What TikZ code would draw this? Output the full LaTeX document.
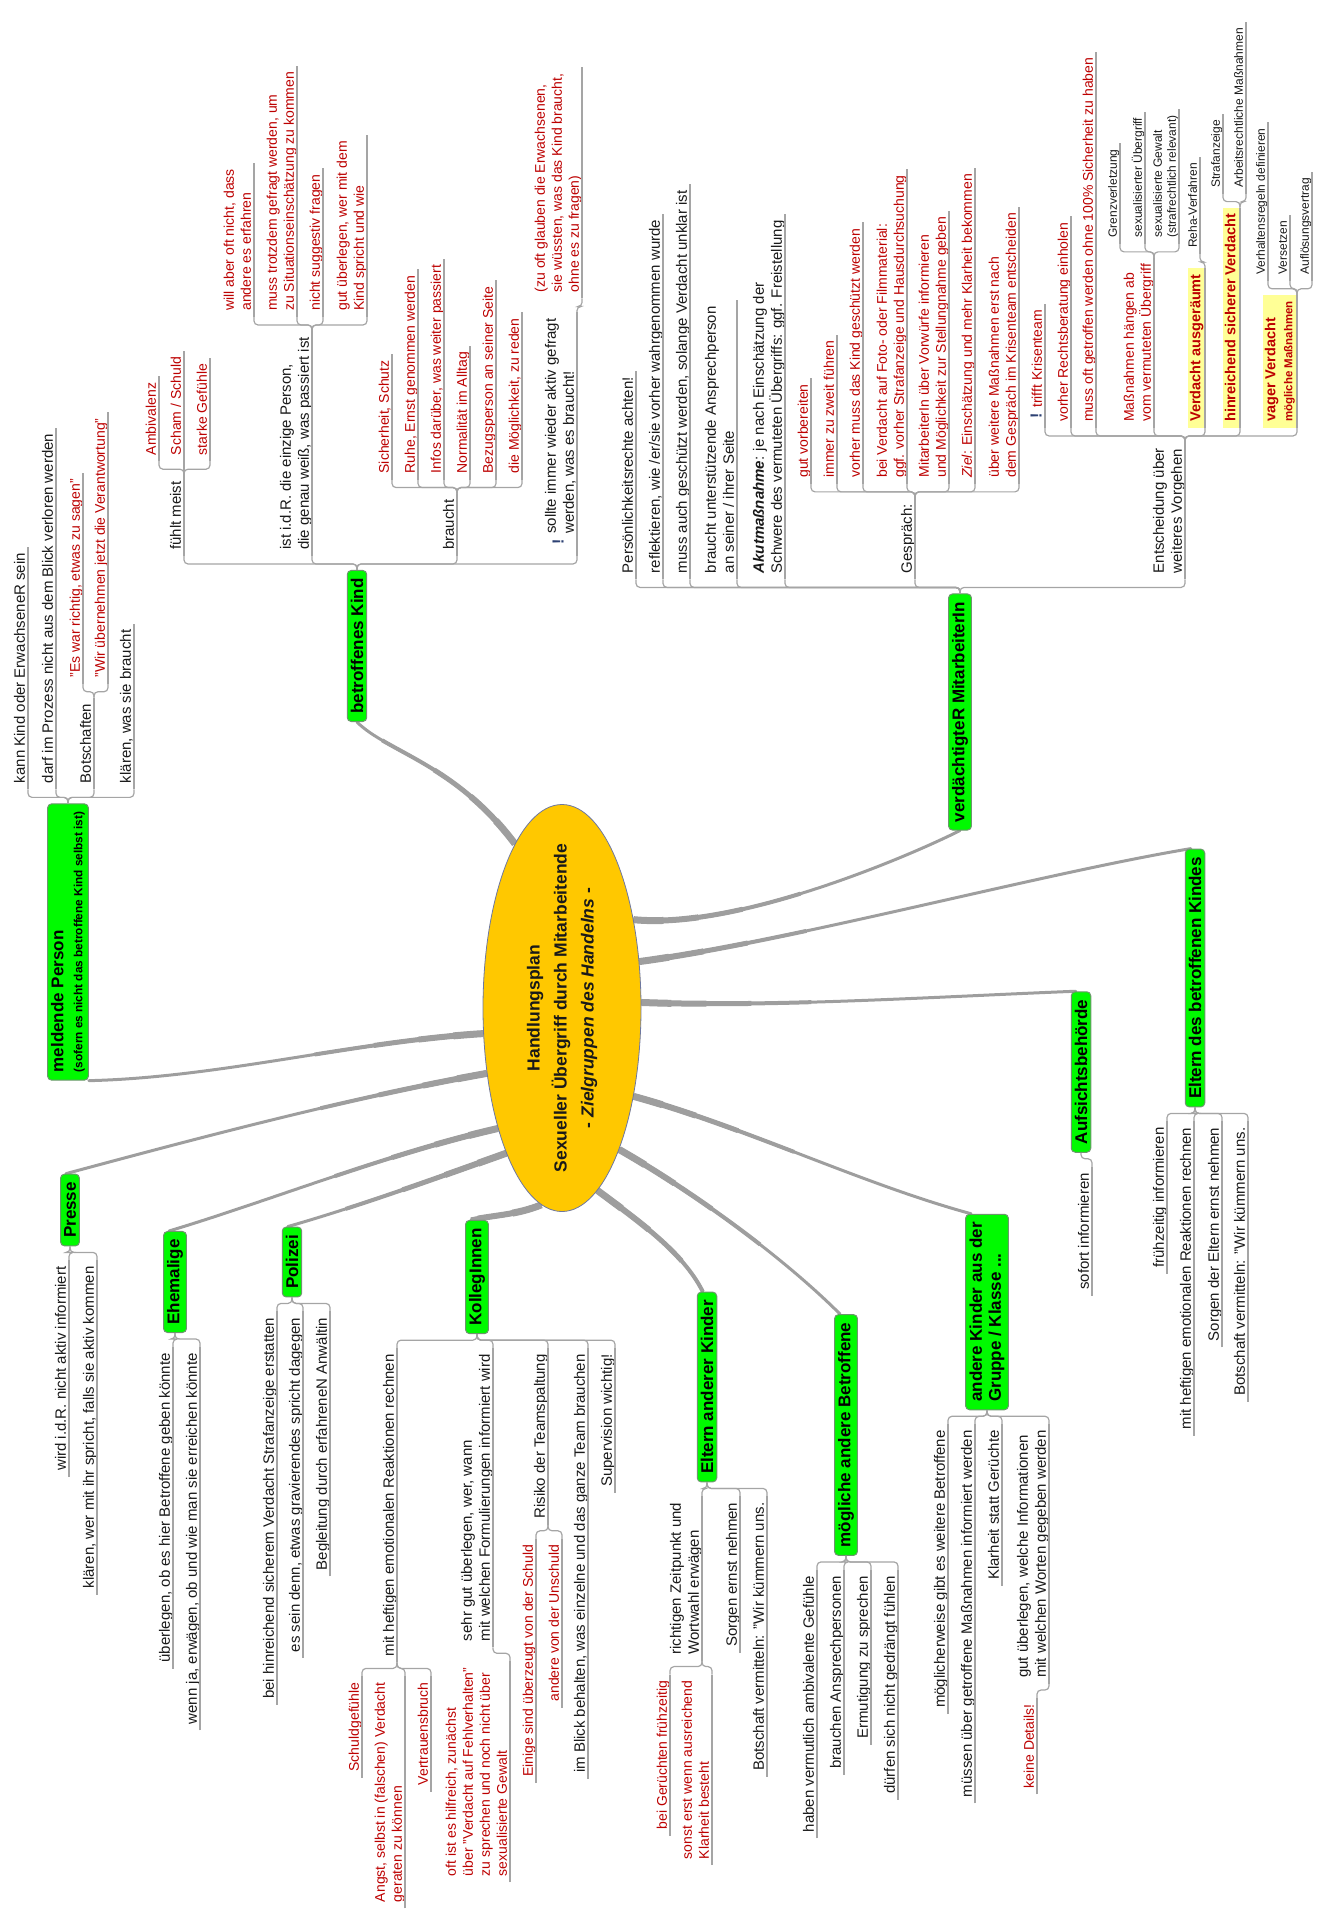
\documentclass[tikz,border=0pt]{standalone}
\usepackage{fontspec}
\setmainfont{Liberation Sans}
\usetikzlibrary{shapes.geometric,backgrounds,calc}
\definecolor{mmgreen}{RGB}{0,250,0}
\definecolor{boxline}{RGB}{110,150,110}
\definecolor{hubgold}{RGB}{255,200,0}
\definecolor{hubline}{RGB}{110,120,160}
\definecolor{lgray}{RGB}{165,165,165}
\definecolor{bgray}{RGB}{158,158,158}
\definecolor{dred}{RGB}{188,0,0}
\definecolor{ink}{RGB}{25,25,25}
\definecolor{hlyellow}{RGB}{255,255,150}
\definecolor{iconblue}{RGB}{45,65,115}
\tikzset{
  lnk/.style={draw=lgray, line width=1.2pt},
  branch/.style={draw=bgray, line width=3pt, line cap=round,
    postaction={draw=bgray, line width=4pt, line cap=butt, dash pattern=on 170pt off 4000pt},
    postaction={draw=bgray, line width=5pt, line cap=butt, dash pattern=on 110pt off 4000pt},
    postaction={draw=bgray, line width=6pt, line cap=butt, dash pattern=on 65pt off 4000pt},
    postaction={draw=bgray, line width=7pt, line cap=butt, dash pattern=on 30pt off 4000pt}},
  rbrace/.style={lnk, rounded corners=4pt, to path={-- ++(0,-6) -| (\tikztotarget)}},
  lbrace/.style={lnk, rounded corners=4pt, to path={-- ++(0,6) -| (\tikztotarget)}},
  topic/.style={rotate=90, draw=boxline, line width=1pt, fill=mmgreen, rounded corners=4pt, text=black, font=\bfseries\fontsize{17}{19}\selectfont, inner xsep=8pt, inner ysep=3.5pt, align=left},
  rt/.style={rotate=90, anchor=south west, inner xsep=6pt, inner ysep=0.5pt, text depth=2.5pt, align=left, text=ink, font=\fontsize{15}{18}\selectfont, append after command={(\tikzlastnode.south west) edge[lnk] (\tikzlastnode.south east)}},
  lt/.style={rt, anchor=south east},
  rd/.style={text=dred, font=\fontsize{14}{17}\selectfont},
  sm/.style={font=\fontsize{12}{14}\selectfont},
  hl/.style={fill=hlyellow, text=dred, font=\bfseries\fontsize{14.5}{17}\selectfont, inner ysep=2pt},
  bang/.style={rotate=90, text=iconblue, font=\bfseries\fontsize{16}{16}\selectfont, inner sep=0pt}
}
\begin{document}
\begin{tikzpicture}[x=1pt,y=-1pt]
\useasboundingbox (0,0) rectangle (1326,1910);
\node[ellipse, rotate=90, draw=hubline, line width=0.8pt, fill=hubgold, minimum width=407pt, minimum height=158pt, inner sep=0pt] (hub) at (562,1008) {};
\node[rotate=90, align=center, text=ink, font=\bfseries\fontsize{17.5}{27}\selectfont] (hubtext) at (hub.center) {Handlungsplan\\Sexueller Übergriff durch Mitarbeitende\\- \textit{Zielgruppen des Handelns} -};

\node[topic] (mp) at (68,942) {meldende Person\\{\fontsize{11.8}{14}\selectfont (sofern es nicht das betroffene Kind selbst ist)}};
\coordinate (mpk) at ([yshift=14pt]mp.east);
\node[rt] (mp1) at (28,0 |- mpk) {kann Kind oder ErwachseneR sein};
\node[rt] (mp2) at (56,0 |- mpk) {darf im Prozess nicht aus dem Blick verloren werden};
\node[rt] (mp3) at (94,0 |- mpk) {Botschaften};
\node[rt] (mp4) at (134,0 |- mpk) {klären, was sie braucht};
\coordinate (mp3k) at ([yshift=14pt]mp3.south east);
\node[rt, rd] (mp31) at (83,0 |- mp3k) {"Es war richtig, etwas zu sagen"};
\node[rt, rd] (mp32) at (108,0 |- mp3k) {"Wir übernehmen jetzt die Verantwortung"};
\foreach \c in {mp1,mp2,mp3,mp4} \draw[rbrace] (mp.east) to (\c.south west);
\foreach \c in {mp31,mp32} \draw[rbrace] (mp3.south east) to (\c.south west);

\node[topic] (bk) at (357,646) {betroffenes Kind};
\coordinate (bkk) at ([yshift=14pt]bk.east);
\node[rt] (bk1) at (184,0 |- bkk) {fühlt meist};
\node[rt] (bk2) at (312,0 |- bkk) {ist i.d.R. die einzige Person,\\die genau weiß, was passiert ist};
\node[rt] (bk3) at (457,0 |- bkk) {braucht};
\node[rt] (bk4) at (577,0 |- bkk) {\hspace*{16pt}sollte immer wieder aktiv gefragt\\\hspace*{16pt}werden, was es braucht!};
\node[bang] (bk4i) at ($(bk4.south west)+(-19,-14)$) {!};
\coordinate (bk1k) at ([yshift=14pt]bk1.south east);
\node[rt, rd] (bk11) at (159,0 |- bk1k) {Ambivalenz};
\node[rt, rd] (bk12) at (184,0 |- bk1k) {Scham / Schuld};
\node[rt, rd] (bk13) at (210,0 |- bk1k) {starke Gefühle};
\coordinate (bk2k) at ([yshift=14pt]bk2.south east);
\node[rt, rd] (bk21) at (254,0 |- bk2k) {will aber oft nicht, dass\\andere es erfahren};
\node[rt, rd] (bk22) at (297,0 |- bk2k) {muss trotzdem gefragt werden, um\\zu Situationseinschätzung zu kommen};
\node[rt, rd] (bk23) at (323,0 |- bk2k) {nicht suggestiv fragen};
\node[rt, rd] (bk24) at (367,0 |- bk2k) {gut überlegen, wer mit dem\\Kind spricht und wie};
\coordinate (bk3k) at ([yshift=14pt]bk3.south east);
\node[rt, rd] (bk31) at (392,0 |- bk3k) {Sicherheit, Schutz};
\node[rt, rd] (bk32) at (418,0 |- bk3k) {Ruhe, Ernst genommen werden};
\node[rt, rd] (bk33) at (444,0 |- bk3k) {Infos darüber, was weiter passiert};
\node[rt, rd] (bk34) at (470,0 |- bk3k) {Normalität im Alltag};
\node[rt, rd] (bk35) at (496,0 |- bk3k) {Bezugsperson an seiner Seite};
\node[rt, rd] (bk36) at (522,0 |- bk3k) {die Möglichkeit, zu reden};
\coordinate (bk4k) at ([yshift=14pt]bk4.south east);
\node[rt, rd] (bk41) at (582,0 |- bk4k) {(zu oft glauben die Erwachsenen,\\sie wüssten, was das Kind braucht,\\ohne es zu fragen)};
\foreach \c in {bk1,bk2,bk3,bk4} \draw[rbrace] (bk.east) to (\c.south west);
\foreach \c in {bk11,bk12,bk13} \draw[rbrace] (bk1.south east) to (\c.south west);
\foreach \c in {bk21,bk22,bk23,bk24} \draw[rbrace] (bk2.south east) to (\c.south west);
\foreach \c in {bk31,bk32,bk33,bk34,bk35,bk36} \draw[rbrace] (bk3.south east) to (\c.south west);
\draw[rbrace] (bk4.south east) to (bk41.south west);

\node[topic] (vm) at (960,712) {verdächtigteR MitarbeiterIn};
\coordinate (vmk) at ([yshift=14pt]vm.east);
\node[rt] (vm1) at (636,0 |- vmk) {Persönlichkeitsrechte achten!};
\node[rt] (vm2) at (663,0 |- vmk) {reflektieren, wie /er/sie vorher wahrgenommen wurde};
\node[rt] (vm3) at (690,0 |- vmk) {muss auch geschützt werden, solange Verdacht unklar ist};
\node[rt] (vm4) at (737,0 |- vmk) {braucht unterstützende Ansprechperson\\an seiner / ihrer Seite};
\node[rt] (vm5) at (785,0 |- vmk) {\textbf{\textit{Akutmaßnahme}}: je nach Einschätzung der\\Schwere des vermuteten Übergriffs: ggf. Freistellung};
\node[rt] (vm6) at (915,0 |- vmk) {Gespräch:};
\node[rt] (vm7) at (1185,0 |- vmk) {Entscheidung über\\weiteres Vorgehen};
\coordinate (vm6k) at ([yshift=14pt]vm6.south east);
\node[rt, rd] (vm61) at (811,0 |- vm6k) {gut vorbereiten};
\node[rt, rd] (vm62) at (837,0 |- vm6k) {immer zu zweit führen};
\node[rt, rd] (vm63) at (863,0 |- vm6k) {vorher muss das Kind geschützt werden};
\node[rt, rd] (vm64) at (907,0 |- vm6k) {bei Verdacht auf Foto- oder Filmmaterial:\\ggf. vorher Strafanzeige und Hausdurchsuchung};
\node[rt, rd] (vm65) at (949,0 |- vm6k) {MitarbeiterIn über Vorwürfe informieren\\und Möglichkeit zur Stellungnahme geben};
\node[rt, rd] (vm66) at (975,0 |- vm6k) {\textit{Ziel}: Einschätzung und mehr Klarheit bekommen};
\node[rt, rd] (vm67) at (1019,0 |- vm6k) {über weitere Maßnahmen erst nach\\dem Gespräch im Krisenteam entscheiden};
\coordinate (vm7k) at ([yshift=14pt]vm7.south east);
\node[rt, rd] (vm71) at (1045,0 |- vm7k) {\hspace*{14pt}trifft Krisenteam};
\node[bang] (vm71i) at ($(vm71.south west)+(-9,-12)$) {!};
\node[rt, rd] (vm72) at (1071,0 |- vm7k) {vorher Rechtsberatung einholen};
\node[rt, rd] (vm73) at (1096,0 |- vm7k) {muss oft getroffen werden ohne 100\% Sicherheit zu haben};
\node[rt, rd] (vm74) at (1154,0 |- vm7k) {Maßnahmen hängen ab\\vom vermuteten Übergriff};
\node[rt, hl] (vm75) at (1205,0 |- vm7k) {Verdacht ausgeräumt};
\node[rt, hl] (vm76) at (1240,0 |- vm7k) {hinreichend sicherer Verdacht};
\node[rt, hl] (vm77) at (1297,0 |- vm7k) {vager Verdacht\\{\fontsize{11.5}{13}\selectfont mögliche Maßnahmen}};
\coordinate (vm74k) at ([yshift=14pt]vm74.south east);
\node[rt, sm] (vm741) at (1120,0 |- vm74k) {Grenzverletzung};
\node[rt, sm] (vm742) at (1145,0 |- vm74k) {sexualisierter Übergriff};
\node[rt, sm] (vm743) at (1179,0 |- vm74k) {sexualisierte Gewalt\\(strafrechtlich relevant)};
\coordinate (vm75k) at ([yshift=14pt]vm75.south east);
\node[rt, sm] (vm751) at (1200,0 |- vm75k) {Reha-Verfahren};
\coordinate (vm76k) at ([yshift=14pt]vm76.south east);
\node[rt, sm] (vm761) at (1223,0 |- vm76k) {Strafanzeige};
\node[rt, sm] (vm762) at (1246,0 |- vm76k) {Arbeitsrechtliche Maßnahmen};
\coordinate (vm77k) at ([yshift=14pt]vm77.south east);
\node[rt, sm] (vm771) at (1268,0 |- vm77k) {Verhaltensregeln definieren};
\node[rt, sm] (vm772) at (1290,0 |- vm77k) {Versetzen};
\node[rt, sm] (vm773) at (1312,0 |- vm77k) {Auflösungsvertrag};
\foreach \c in {vm1,vm2,vm3,vm4,vm5,vm6,vm7} \draw[rbrace] (vm.east) to (\c.south west);
\foreach \c in {vm61,vm62,vm63,vm64,vm65,vm66,vm67} \draw[rbrace] (vm6.south east) to (\c.south west);
\foreach \c in {vm71,vm72,vm73,vm74,vm75,vm76,vm77} \draw[rbrace] (vm7.south east) to (\c.south west);
\foreach \c in {vm741,vm742,vm743} \draw[rbrace] (vm74.south east) to (\c.south west);
\draw[rbrace] (vm75.south east) to (vm751.south west);
\foreach \c in {vm761,vm762} \draw[rbrace] (vm76.south east) to (\c.south west);
\foreach \c in {vm771,vm772,vm773} \draw[rbrace] (vm77.south east) to (\c.south west);

\node[topic] (eb) at (1195,978) {Eltern des betroffenen Kindes};
\coordinate (ebk) at ([yshift=-14pt]eb.west);
\node[lt] (eb1) at (1167,0 |- ebk) {frühzeitig informieren};
\node[lt] (eb2) at (1194,0 |- ebk) {mit heftigen emotionalen Reaktionen rechnen};
\node[lt] (eb3) at (1222,0 |- ebk) {Sorgen der Eltern ernst nehmen};
\node[lt] (eb4) at (1248,0 |- ebk) {Botschaft vermitteln: "Wir kümmern uns.};
\foreach \c in {eb1,eb2,eb3,eb4} \draw[lbrace] (eb.west) to (\c.south east);

\node[topic] (ab) at (1081,1072) {Aufsichtsbehörde};
\coordinate (abk) at ([yshift=-14pt]ab.west);
\node[lt] (ab1) at (1092,0 |- abk) {sofort informieren};
\draw[lbrace] (ab.west) to (ab1.south east);

\node[topic, inner ysep=4pt] (ak) at (987,1312) {andere Kinder aus der\\Gruppe / Klasse ...};
\coordinate (akk) at ([yshift=-14pt]ak.west);
\node[lt] (ak1) at (948,0 |- akk) {möglicherweise gibt es weitere Betroffene};
\node[lt] (ak2) at (975,0 |- akk) {müssen über getroffene Maßnahmen informiert werden};
\node[lt] (ak3) at (1002,0 |- akk) {Klarheit statt Gerüchte};
\node[lt] (ak4) at (1049,0 |- akk) {gut überlegen, welche Informationen\\mit welchen Worten gegeben werden};
\coordinate (ak4k) at ([yshift=-14pt]ak4.south west);
\node[lt, rd] (ak41) at (1037,0 |- ak4k) {keine Details!};
\foreach \c in {ak1,ak2,ak3,ak4} \draw[lbrace] (ak.west) to (\c.south east);
\draw[lbrace] (ak4.south west) to (ak41.south east);

\node[topic] (mb) at (846,1435) {mögliche andere Betroffene};
\coordinate (mbk) at ([yshift=-14pt]mb.west);
\node[lt] (mb1) at (817,0 |- mbk) {haben vermutlich ambivalente Gefühle};
\node[lt] (mb2) at (844,0 |- mbk) {brauchen Ansprechpersonen};
\node[lt] (mb3) at (871,0 |- mbk) {Ermutigung zu sprechen};
\node[lt] (mb4) at (898,0 |- mbk) {dürfen sich nicht gedrängt fühlen};
\foreach \c in {mb1,mb2,mb3,mb4} \draw[lbrace] (mb.west) to (\c.south east);

\node[topic] (ea) at (707,1387) {Eltern anderer Kinder};
\coordinate (eak) at ([yshift=-14pt]ea.west);
\node[lt] (ea1) at (702,0 |- eak) {richtigen Zeitpunkt und\\Wortwahl erwägen};
\node[lt] (ea2) at (740,0 |- eak) {Sorgen ernst nehmen};
\node[lt] (ea3) at (767,0 |- eak) {Botschaft vermitteln: "Wir kümmern uns.};
\coordinate (ea1k) at ([yshift=-14pt]ea1.south west);
\node[lt, rd] (ea11) at (670,0 |- ea1k) {bei Gerüchten frühzeitig};
\node[lt, rd] (ea12) at (712,0 |- ea1k) {sonst erst wenn ausreichend\\Klarheit besteht};
\foreach \c in {ea1,ea2,ea3} \draw[lbrace] (ea.west) to (\c.south east);
\foreach \c in {ea11,ea12} \draw[lbrace] (ea1.south west) to (\c.south east);

\node[topic] (ko) at (477,1277) {KollegInnen};
\coordinate (kok) at ([yshift=-14pt]ko.west);
\node[lt] (ko1) at (397,0 |- kok) {mit heftigen emotionalen Reaktionen rechnen};
\node[lt] (ko2) at (493,0 |- kok) {sehr gut überlegen, wer, wann\\mit welchen Formulierungen informiert wird};
\node[lt] (ko3) at (548,0 |- kok) {Risiko der Teamspaltung};
\node[lt] (ko4) at (588,0 |- kok) {im Blick behalten, was einzelne und das ganze Team brauchen};
\node[lt] (ko5) at (615,0 |- kok) {Supervision wichtig!};
\coordinate (ko1k) at ([yshift=-14pt]ko1.south west);
\node[lt, rd] (ko11) at (362,0 |- ko1k) {Schuldgefühle};
\node[lt, rd] (ko12) at (405,0 |- ko1k) {Angst, selbst in (falschen) Verdacht\\geraten zu können};
\node[lt, rd] (ko13) at (431,0 |- ko1k) {Vertrauensbruch};
\coordinate (ko2k) at ([yshift=-14pt]ko2.south west);
\node[lt, rd] (ko21) at (510,0 |- ko2k) {oft ist es hilfreich, zunächst\\über "Verdacht auf Fehlverhalten"\\zu sprechen und noch nicht über\\sexualisierte Gewalt};
\coordinate (ko3k) at ([yshift=-14pt]ko3.south west);
\node[lt, rd] (ko31) at (536,0 |- ko3k) {Einige sind überzeugt von der Schuld};
\node[lt, rd] (ko32) at (562,0 |- ko3k) {andere von der Unschuld};
\foreach \c in {ko1,ko2,ko3,ko4,ko5} \draw[lbrace] (ko.west) to (\c.south east);
\foreach \c in {ko11,ko12,ko13} \draw[lbrace] (ko1.south west) to (\c.south east);
\draw[lbrace] (ko2.south west) to (ko21.south east);
\foreach \c in {ko31,ko32} \draw[lbrace] (ko3.south west) to (\c.south east);

\node[topic] (po) at (292,1262) {Polizei};
\coordinate (pok) at ([yshift=-14pt]po.west);
\node[lt] (po1) at (277,0 |- pok) {bei hinreichend sicherem Verdacht Strafanzeige erstatten};
\node[lt] (po2) at (303,0 |- pok) {es sein denn, etwas gravierendes spricht dagegen};
\node[lt] (po3) at (330,0 |- pok) {Begleitung durch erfahreneN Anwältin};
\foreach \c in {po1,po2,po3} \draw[lbrace] (po.west) to (\c.south east);

\node[topic] (eh) at (175,1282) {Ehemalige};
\coordinate (ehk) at ([yshift=-14pt]eh.west);
\node[lt] (eh1) at (173,0 |- ehk) {überlegen, ob es hier Betroffene geben könnte};
\node[lt] (eh2) at (200,0 |- ehk) {wenn ja, erwägen, ob und wie man sie erreichen könnte};
\foreach \c in {eh1,eh2} \draw[lbrace] (eh.west) to (\c.south east);

\node[topic] (pr) at (70,1210) {Presse};
\coordinate (prk) at ([yshift=-14pt]pr.west);
\node[lt] (pr1) at (69,0 |- prk) {wird i.d.R. nicht aktiv informiert};
\node[lt] (pr2) at (97,0 |- prk) {klären, wer mit ihr spricht, falls sie aktiv kommen};
\foreach \c in {pr1,pr2} \draw[lbrace] (pr.west) to (\c.south east);

\begin{scope}[on background layer]
\draw[branch] (hub.108) .. controls +(-130,8) and +(130,-3) .. (mp.south west);
\draw[branch] (hub.16) .. controls +(-60,-80) and +(30,30) .. (bk.west);
\draw[branch] (hub.321) .. controls +(100,10) and +(-60,30) .. (vm.west);
\draw[branch] (hub.301) .. controls +(150,-20) and +(-150,25) .. ($(eb.north east)+(6,0)$);
\draw[branch] (hub.274) .. controls +(130,5) and +(-130,5) .. ($(ab.north east)+(5,0)$);
\draw[branch] (hub.219) .. controls +(110,30) and +(-110,-30) .. ($(ak.north east)+(6,0)$);
\draw[branch] (hub.202) .. controls +(70,40) and +(-60,-60) .. ($(mb.north east)+(6,0)$);
\draw[branch] (hub.191) .. controls +(40,30) and +(-20,-40) .. ($(ea.north east)+(6,0)$);
\draw[branch] (hub.174) .. controls +(-25,10) and +(25,-5) .. ($(ko.north east)+(6,0)$);
\draw[branch] (hub.159) .. controls +(-70,25) and +(70,-20) .. ($(po.north east)+(6,0)$);
\draw[branch] (hub.152) .. controls +(-110,25) and +(100,-30) .. ($(eh.north east)+(6,0)$);
\draw[branch] (hub.131) .. controls +(-140,25) and +(130,-35) .. ($(pr.north east)+(6,0)$);
\end{scope}
\end{tikzpicture}
\end{document}
